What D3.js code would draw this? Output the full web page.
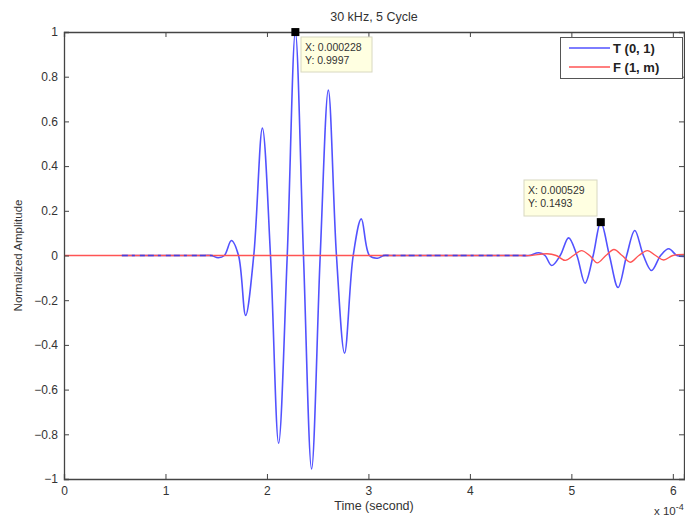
<!DOCTYPE html>
<html>
<head>
<meta charset="utf-8">
<script src="https://cdn.jsdelivr.net/npm/d3@7/dist/d3.min.js"></script>
<style>
  html, body { margin: 0; padding: 0; background: #fff; }
  svg { display: block; font-family: "Liberation Sans", Arial, sans-serif; }
</style>
</head>
<body>
<svg id="chart" width="685" height="517"></svg>
<script>
// Time values in units of 1e-4 s, amplitudes normalized.
const tTime = [0.57, 0.65, 1.38, 1.45, 1.52, 1.58, 1.65, 1.72, 1.79, 1.87, 1.955, 2.035, 2.115, 2.20, 2.28, 2.36,
  2.44, 2.525, 2.605, 2.685, 2.765, 2.85, 2.93, 3.01, 3.09, 3.15, 3.22, 4.50, 4.58, 4.68, 4.74, 4.806, 4.89,
  4.973, 5.055, 5.135, 5.215, 5.29, 5.375, 5.46, 5.545, 5.625, 5.71, 5.79, 5.88, 5.96, 6.04, 6.12];
const tAmp = [0, 0, 0, 0, -0.01, 0, 0.067, 0, -0.268, 0, 0.57, 0, -0.84, 0, 0.9997, 0,
  -0.955, 0, 0.74, 0, -0.437, 0, 0.164, 0, -0.012, 0, 0, 0, 0, 0.012, 0, -0.045, 0,
  0.079, 0, -0.124, 0, 0.1493, 0, -0.143, 0, 0.112, 0, -0.067, 0, 0.03, 0, -0.004];

const fTime = [0, 0.1, 4.50, 4.60, 4.76, 4.85, 4.94, 5.02, 5.10, 5.18, 5.255, 5.34, 5.42, 5.50, 5.58,
  5.665, 5.75, 5.83, 5.91, 6.0, 6.12];
const fAmp = [0, 0, 0, 0, 0.008, 0, -0.022, 0, 0.022, 0, -0.033, 0, 0.027, 0, -0.03,
  0, 0.022, 0, -0.02, 0, 0.005];

// Quiet stretches of T(0,1) that sit on the zero line
const quietSpans = [[0.57, 1.47], [3.14, 4.58]];

const xTicks = [0, 1, 2, 3, 4, 5, 6];
const yTicks = [-1, -0.8, -0.6, -0.4, -0.2, 0, 0.2, 0.4, 0.6, 0.8, 1];

const seriesNames = ["T (0, 1)", "F (1, m)"];
const seriesColors = ["#5252ff", "#ff5454"];

// Data tips: [time, amplitude, x label, y label]
const tips = [
  [2.28, 0.9997, "X: 0.000228", "Y: 0.9997"],
  [5.29, 0.1493, "X: 0.000529", "Y: 0.1493"]
];

const svg = d3.select("#chart");
const m = { left: 64, right: 684, top: 32, bottom: 479 };

const x = d3.scaleLinear().domain([0, 6.11]).range([m.left, m.right]);
const y = d3.scaleLinear().domain([-1, 1]).range([m.bottom, m.top]);

svg.append("defs").append("clipPath").attr("id", "plotClip")
  .append("rect").attr("x", m.left).attr("y", m.top - 2)
  .attr("width", m.right - m.left).attr("height", m.bottom - m.top + 4);

const plot = svg.append("g").attr("clip-path", "url(#plotClip)");

const line = d3.line().x(d => x(d[0])).y(d => y(d[1])).curve(d3.curveCatmullRom.alpha(0.5));

const tData = tTime.map((t, i) => [t, tAmp[i]]);
const fData = fTime.map((t, i) => [t, fAmp[i]]);

plot.append("path").datum(tData).attr("d", line)
  .attr("fill", "none").attr("stroke", seriesColors[0]).attr("stroke-width", 1.6);

plot.append("path").datum(fData).attr("d", line)
  .attr("fill", "none").attr("stroke", seriesColors[1]).attr("stroke-width", 1.4);

// Blue trace showing through the red zero line on quiet stretches
quietSpans.forEach(s => {
  plot.append("path").datum([[s[0], 0], [s[1], 0]]).attr("d", line)
    .attr("fill", "none").attr("stroke", "#4a3fd8").attr("stroke-width", 1.6)
    .attr("stroke-dasharray", "6,4,3,5,5,3");
});

// Axes box and ticks
const axisColor = "#444";
const xb = svg.append("g").attr("transform", `translate(0,${m.bottom})`)
  .call(d3.axisBottom(x).tickValues(xTicks).tickSize(-5).tickPadding(7).tickFormat(d3.format("d")));
const xt = svg.append("g").attr("transform", `translate(0,${m.top})`)
  .call(d3.axisTop(x).tickValues(xTicks).tickSize(-5).tickFormat(""));
const yl = svg.append("g").attr("transform", `translate(${m.left},0)`)
  .call(d3.axisLeft(y).tickValues(yTicks).tickSize(-5).tickPadding(6).tickFormat(d => d3.format("")(+d.toFixed(1))));
const yr = svg.append("g").attr("transform", `translate(${m.right},0)`)
  .call(d3.axisRight(y).tickValues(yTicks).tickSize(-5).tickFormat(""));

[xb, xt, yl, yr].forEach(g => {
  g.select(".domain").attr("stroke", axisColor).attr("stroke-width", 1.3);
  g.selectAll(".tick line").attr("stroke", axisColor);
  g.selectAll(".tick text").attr("fill", "#333").attr("font-size", 12)
    .attr("font-family", "Liberation Sans, Arial, sans-serif");
});

// Title and axis labels
svg.append("text").attr("x", (m.left + m.right) / 2).attr("y", 21)
  .attr("text-anchor", "middle").attr("font-size", 12.5).attr("fill", "#333")
  .text("30 kHz, 5 Cycle");

svg.append("text").attr("x", (m.left + m.right) / 2).attr("y", 510)
  .attr("text-anchor", "middle").attr("font-size", 12.5).attr("fill", "#333")
  .text("Time (second)");

svg.append("text").attr("transform", `translate(22,${(m.top + m.bottom) / 2}) rotate(-90)`)
  .attr("text-anchor", "middle").attr("font-size", 11.5).attr("fill", "#333")
  .text("Normalized Amplitude");

const expo = svg.append("text").attr("x", 654).attr("y", 515)
  .attr("font-size", 11.5).attr("fill", "#333");
expo.append("tspan").text("x 10");
expo.append("tspan").attr("dy", -5).attr("font-size", 9).text("-4");

// Data tips
const tipBoxes = [[301, 37, 71, 35], [524, 180, 73, 36]];
tips.forEach((tp, i) => {
  const b = tipBoxes[i];
  svg.append("rect").attr("x", b[0]).attr("y", b[1]).attr("width", b[2]).attr("height", b[3])
    .attr("fill", "#ffffe1").attr("stroke", "#d8d8c0").attr("stroke-width", 1);
  svg.append("text").attr("x", b[0] + 4).attr("y", b[1] + 14)
    .attr("font-size", 10.5).attr("fill", "#333").text(tp[2]);
  svg.append("text").attr("x", b[0] + 4).attr("y", b[1] + 27)
    .attr("font-size", 10.5).attr("fill", "#333").text(tp[3]);
  svg.append("rect").attr("x", x(tp[0]) - 4).attr("y", y(tp[1]) - 4)
    .attr("width", 8).attr("height", 8).attr("fill", "#000");
});

// Legend
const lg = svg.append("g");
lg.append("rect").attr("x", 560.5).attr("y", 37.5).attr("width", 122).attr("height", 41)
  .attr("fill", "#fff").attr("stroke", "#555").attr("stroke-width", 1);
seriesNames.forEach((name, i) => {
  const ly = 48 + i * 19;
  lg.append("line").attr("x1", 569).attr("x2", 610).attr("y1", ly).attr("y2", ly)
    .attr("stroke", seriesColors[i]).attr("stroke-width", 1.3);
  lg.append("text").attr("x", 613).attr("y", ly + 5)
    .attr("font-size", 13).attr("font-weight", "bold").attr("fill", "#222").text(name);
});
</script>
</body>
</html>
